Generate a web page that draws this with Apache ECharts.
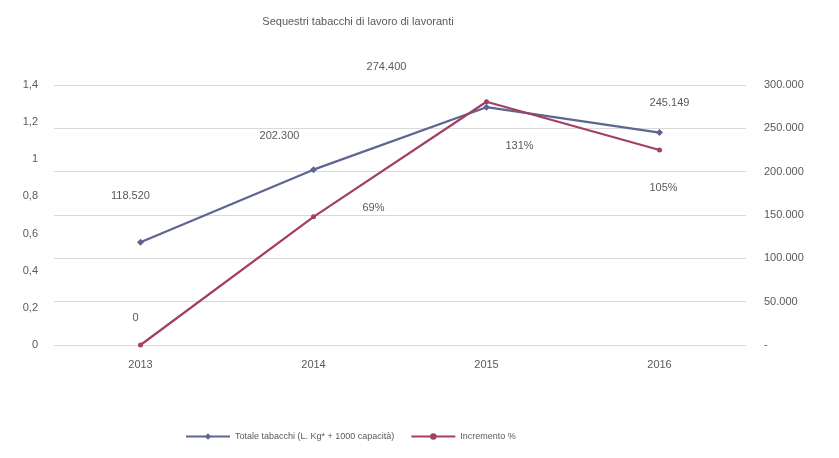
<!DOCTYPE html>
<html>
<head>
<meta charset="utf-8">
<script src="https://cdn.jsdelivr.net/npm/echarts@6/dist/echarts.min.js"></script>
<style>
  html, body { margin: 0; padding: 0; background: #fff; }
  #chart { width: 839px; height: 458px; }
</style>
</head>
<body>
<div id="chart"></div>
<script>
// Years on the category axis
const years = ['2013', '2014', '2015', '2016'];
// Totals (right axis)
const totali = [118520, 202300, 274400, 245149];
// Year-on-year increment as a fraction (left axis)
const incremento = [0, 0.69, 1.31, 1.05];

const titleText = 'Sequestri tabacchi di lavoro di lavoranti';
const nameTotali = 'Totale tabacchi (L. Kg* + 1000 capacità)';
const nameIncremento = 'Incremento %';

const colTot = '#5e6592';
const colInc = '#a3405f';
const txt = '#595959';
const font = 'Liberation Sans';

// Label placement offsets for each point
const offTot = [[-10, -46], [-34, -34], [-100, -40], [10, -30]];
const offInc = [[-5, -27], [60, -9], [33, 44], [4, 38]];

const fmtIt = v => v === 0 ? '-' : v.toLocaleString('de-DE');
const fmtDec = v => String(Math.round(v * 10) / 10).replace('.', ',');

const chart = echarts.init(document.getElementById('chart'));
chart.setOption({
  animation: false,
  backgroundColor: '#ffffff',
  textStyle: { fontFamily: font },
  title: {
    text: titleText,
    left: 353, top: 11, textAlign: 'center',
    textStyle: { fontSize: 11, fontWeight: 'normal', color: txt, fontFamily: font }
  },
  legend: {
    bottom: 12, left: 180, itemGap: 16,
    itemWidth: 44, itemHeight: 8,
    textStyle: { fontSize: 9, color: txt, fontFamily: font },
    data: [nameTotali, nameIncremento]
  },
  grid: { left: 54, right: 93, top: 85, bottom: 113 },
  xAxis: {
    type: 'category', data: years, boundaryGap: true,
    axisLine: { show: false }, axisTick: { show: false },
    axisLabel: { color: txt, fontSize: 11, margin: 14, fontFamily: font }
  },
  yAxis: [
    {
      type: 'value', min: 0, max: 1.4, interval: 0.2, position: 'left',
      axisLine: { show: false }, axisTick: { show: false },
      splitLine: { show: false },
      axisLabel: { color: txt, fontSize: 11, margin: 16, formatter: fmtDec, fontFamily: font }
    },
    {
      type: 'value', min: 0, max: 300000, interval: 50000, position: 'right',
      axisLine: { show: false }, axisTick: { show: false },
      splitLine: { show: true, lineStyle: { color: '#d9d9d9', width: 1 } },
      axisLabel: { color: txt, fontSize: 11, margin: 18, formatter: fmtIt, fontFamily: font }
    }
  ],
  series: [
    {
      name: nameTotali, type: 'line', yAxisIndex: 1,
      data: totali.map((v, i) => ({
        value: v,
        label: { offset: offTot[i] }
      })),
      symbol: 'diamond', symbolSize: 7,
      lineStyle: { color: colTot, width: 2.25 },
      itemStyle: { color: colTot },
      label: {
        show: true, position: 'inside', color: txt, fontSize: 11, fontFamily: font,
        formatter: p => fmtIt(p.value)
      },
      z: 3
    },
    {
      name: nameIncremento, type: 'line', yAxisIndex: 0,
      data: incremento.map((v, i) => ({
        value: v,
        label: { offset: offInc[i] }
      })),
      symbol: 'circle', symbolSize: 5,
      lineStyle: { color: colInc, width: 2.25 },
      itemStyle: { color: colInc },
      label: {
        show: true, position: 'inside', color: txt, fontSize: 11, fontFamily: font,
        formatter: p => Math.round(p.value * 100) === 0 ? '0' : Math.round(p.value * 100) + '%'
      },
      z: 4
    }
  ]
});
</script>
</body>
</html>
